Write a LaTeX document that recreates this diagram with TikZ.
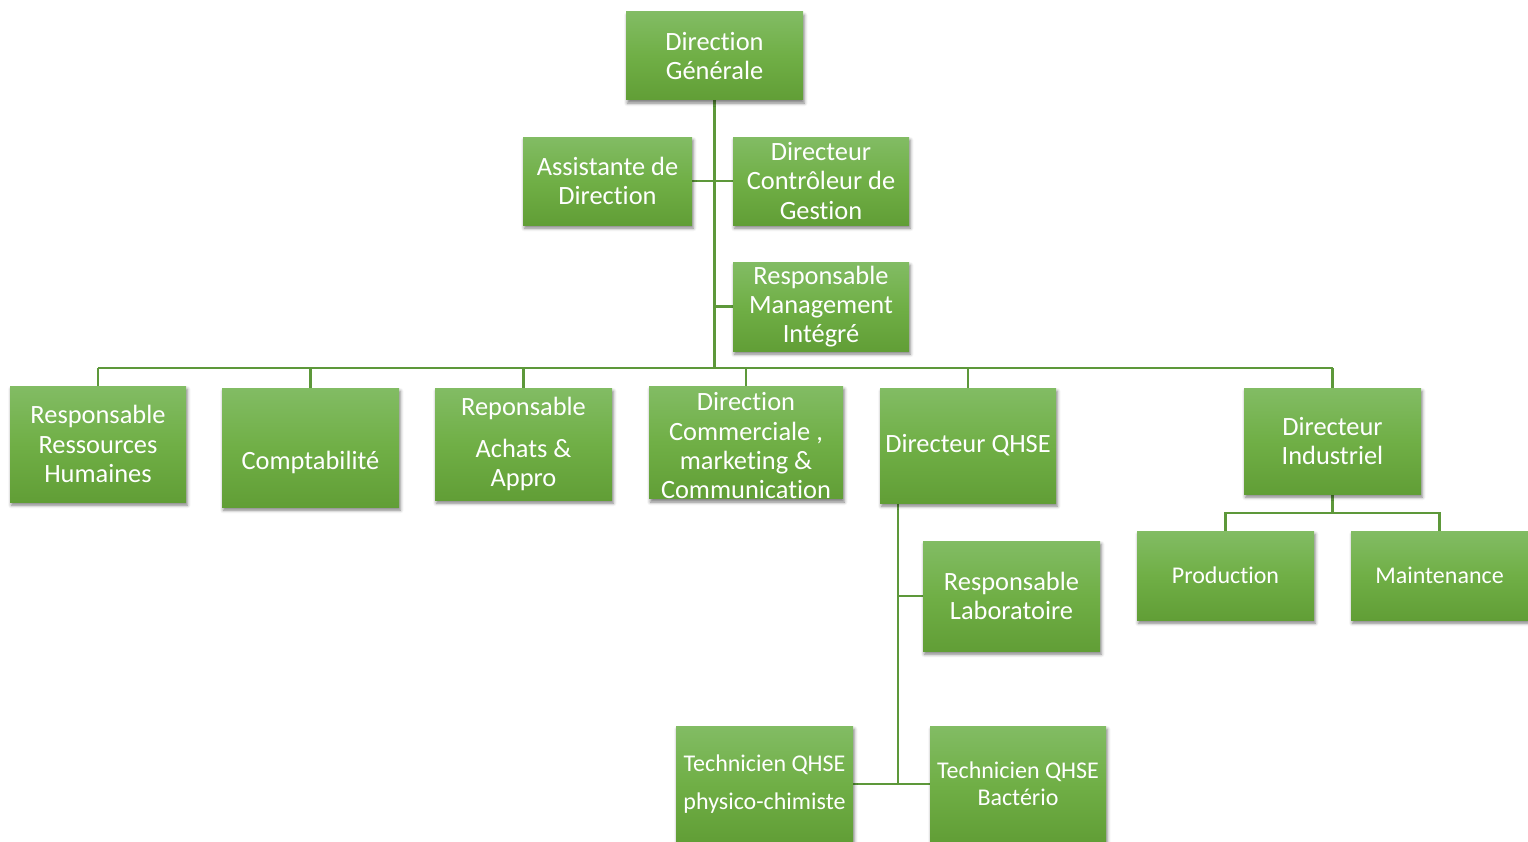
\documentclass[tikz,border=0pt]{standalone}
\usepackage{fontspec}
\setmainfont{Carlito}[RawFeature={-liga;-clig;-calt;-dlig}]
\usetikzlibrary{shadows.blur,backgrounds}

\definecolor{gtop}{RGB}{130,188,100}
\definecolor{gmid}{RGB}{112,175,70}
\definecolor{gbot}{RGB}{97,158,54}
\definecolor{linkc}{RGB}{93,152,58}

\tikzset{
  box/.style={rectangle, inner sep=0pt, align=center, text=white,
    top color=gtop, bottom color=gbot, middle color=gmid,
    font=\fontsize{19.8}{22}\selectfont,
    blur shadow={shadow xshift=1pt, shadow yshift=-2.4pt,
                 shadow blur radius=2.4pt, shadow opacity=50}},
  small/.style={font=\fontsize{18}{20}\selectfont},
  link/.style={draw=linkc, line width=2.2pt}
}

% box by its corners (pixel units): [extra style] name x1 y1 x2 y2 text
\newcommand\orgbox[7][]{%
  \node[box,#1,minimum width={(#5-#3)*0.75pt},minimum height={(#6-#4)*0.75pt}]
    (#2) at ({(#3+#5)/2},{(#4+#6)/2}) {#7};}

\begin{document}
\begin{tikzpicture}[x=0.75pt,y=-0.75pt]
\useasboundingbox (0,0) rectangle (1528,842);

\orgbox{dg}{626}{12}{803}{100}{Direction\\Générale}
\orgbox{asst}{523}{137}{692}{225}{Assistante de\\Direction}
\orgbox{dcg}{733}{137}{909}{225}{Directeur\\Contrôleur de\\Gestion}
\orgbox{rmi}{733}{262}{909}{351}{Responsable\\Management\\Intégré}

\orgbox{rrh}{10}{386}{186}{502}{Responsable\\Ressources\\Humaines}
\orgbox{compta}{222}{388}{399}{507}{\raisebox{-11.5pt}[\height][\depth]{Comptabilité}}
\orgbox{achats}{435}{388}{612}{500}{Reponsable\\[9pt]Achats \&\\Appro}
\orgbox{dcom}{649}{388}{843}{497}{\\[-3.5pt]Direction\\Commerciale ,\\marketing \&\\Communication}
\orgbox{qhse}{880}{388}{1056}{503}{Directeur QHSE}
\orgbox{dind}{1244}{388}{1421}{494}{Directeur\\Industriel}

\orgbox[small]{prod}{1137}{531}{1314}{620}{Production}
\orgbox[small]{maint}{1351}{531}{1528}{620}{Maintenance}
\orgbox{labo}{923}{541}{1100}{651}{Responsable\\Laboratoire}
\orgbox[small]{tphys}{676}{726}{853}{842}{Technicien QHSE\\[8pt]physico-chimiste}
\orgbox[small]{tbact}{930}{726}{1106}{842}{Technicien QHSE\\Bactério}

\coordinate (bus) at (0,368);
\coordinate (indbus) at (0,513);
\coordinate (qv) at (898,0);

\begin{scope}[on background layer]
  % main trunk and first level bus
  \draw[link] (dg.south) -- (dg.south |- bus);
  \draw[link] (rrh.north |- bus) -- (dind.north |- bus);
  \foreach \n in {rrh,compta,achats,dcom,qhse,dind}
    \draw[link] (\n.north) -- (\n.north |- bus);
  % staff positions
  \draw[link] (asst.east) -- (dcg.west);
  \draw[link] (rmi.west) -- (rmi.west -| dg.south);
  % industrial branch
  \draw[link] (dind.south) -- (dind.south |- indbus);
  \draw[link] (prod.north) -- (prod.north |- indbus) -- (maint.north |- indbus) -- (maint.north);
  % QHSE branch
  \draw[link] (qhse.south -| qv) -- (qv |- tphys.east);
  \draw[link] (qv |- labo.west) -- (labo.west);
  \draw[link] (tphys.east) -- (tbact.west);
\end{scope}
\end{tikzpicture}
\end{document}
